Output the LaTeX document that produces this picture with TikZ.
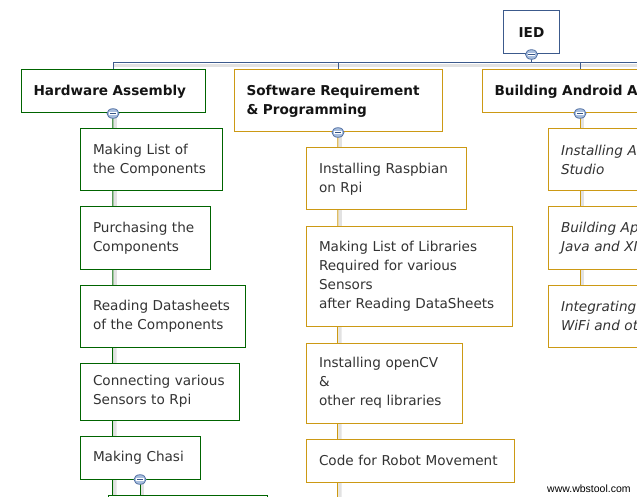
\documentclass[tikz,border=0pt]{standalone}
\usepackage{fontspec}
\setmainfont{DejaVu Sans}
\newfontfamily\wmfont{Liberation Sans}
\usetikzlibrary{backgrounds}

\definecolor{hwgreen}{RGB}{0,100,0}
\definecolor{swgold}{RGB}{204,153,20}
\definecolor{iedblue}{RGB}{60,90,140}
\definecolor{bodytext}{RGB}{51,51,51}
\definecolor{headtext}{RGB}{20,20,20}
\definecolor{iconfill}{RGB}{168,190,222}
\definecolor{iconedge}{RGB}{85,115,165}
\definecolor{iconbar}{RGB}{55,85,135}
\definecolor{lineshade}{RGB}{226,226,226}

\tikzset{
  box/.style={draw, fill=white, line width=1pt, anchor=north west,
              inner xsep=13pt, inner ysep=0pt, align=left},
  topic/.style={box, font=\fontsize{13.6}{19}\selectfont\bfseries,
                text=headtext, inner xsep=12.5pt},
  task/.style={box, font=\fontsize{13.6}{19}\selectfont, text=bodytext},
  itask/.style={task, font=\fontsize{13.6}{19}\selectfont\itshape},
  hwc/.style={draw=hwgreen},
  swc/.style={draw=swgold},
  iedc/.style={draw=iedblue},
  link/.style={line width=1pt},
  shade/.style={lineshade, line width=3pt},
  pics/collapse/.style={code={
    \draw[iconedge, fill=iconfill, line width=0.8pt]
      (0,0) ellipse [x radius=6pt, y radius=4.8pt];
    \draw[white, line width=3.2pt] (-3.9pt,0) -- (3.9pt,0);
    \draw[iconbar, line width=1.7pt] (-3.2pt,0) -- (3.2pt,0);
  }}
}

\begin{document}
\begin{tikzpicture}[x=1pt, y=-1pt]
\useasboundingbox (0,0) rectangle (637,497);
\clip (0,0) rectangle (637,497);

% half-pixel offset keeps the 1pt borders crisp
\begin{scope}[shift={(0.5,0.5)}]

% root
\node[topic, iedc, anchor=north, text width=31pt, align=center,
      minimum height=43pt] (ied) at (531,10) {IED};

% main branches
\node[topic, hwc, text width=159pt, minimum height=43pt] (hw) at (20,69)
  {Hardware Assembly};
\node[topic, swc, text width=183pt, minimum height=62pt] (sw) at (233,69)
  {Software Requirement\\\& Programming};
\node[topic, swc, text width=171pt, minimum height=43pt] (an) at (481,69)
  {Building Android App};

% hardware tasks
\node[task, hwc, text width=116pt, minimum height=62pt] (hw1) at (79,128)
  {Making List of\\the Components};
\node[task, hwc, text width=104pt, minimum height=62pt] (hw2) at (79,206)
  {Purchasing the\\Components};
\node[task, hwc, text width=139pt, minimum height=62pt] (hw3) at (79,284)
  {Reading Datasheets\\of the Components};
\node[task, hwc, text width=133pt, minimum height=57pt] (hw4) at (79,362)
  {Connecting various\\Sensors to Rpi};
\node[task, hwc, text width=94pt, minimum height=43pt] (hw5) at (79,435)
  {Making Chasi};
\node[task, hwc, text width=133pt, minimum height=43pt] (hw6) at (107,494) {};

% software tasks
\node[task, swc, text width=134pt, minimum height=62pt] (sw1) at (305,147)
  {Installing Raspbian\\on Rpi};
\node[task, swc, text width=180pt, minimum height=99pt] (sw2) at (305,226)
  {Making List of Libraries\\Required for various\\Sensors\\after Reading DataSheets};
\node[task, swc, text width=130pt, minimum height=80pt] (sw3) at (305,342)
  {Installing openCV\\\&\\other req libraries};
\node[task, swc, text width=182pt, minimum height=43pt] (sw4) at (305,438)
  {Code for Robot Movement};

% android tasks
\node[itask, swc, text width=150pt, minimum height=62pt] (an1) at (547,128)
  {Installing Android\\Studio};
\node[itask, swc, text width=150pt, minimum height=62pt] (an2) at (547,206)
  {Building App using\\Java and XML};
\node[itask, swc, text width=150pt, minimum height=62pt] (an3) at (547,284)
  {Integrating Sensors,\\WiFi and others};

% open ends of the branches
\coordinate (busend) at (645,62);
\coordinate (hwend) at (112,505);
\coordinate (swend) at (337,505);

\begin{pgfonlayer}{background}
  \fill[white] (-1,-1) rectangle (640,500);
  % top bus
  \draw[shade] ([yshift=-3pt]hw.north |- busend) -- ([yshift=-3pt]busend);
  \draw[link, iedblue] (ied.south) -- (ied.south |- busend);
  \draw[link, iedblue] (hw.north) -- (hw.north |- busend) -- (busend);
  \draw[link, iedblue] (sw.north) -- (sw.north |- busend);
  \draw[link, iedblue] (an.north) -- (an.north |- busend);
  % branch spines
  \draw[shade] ([xshift=2.5pt]hw.south) -- ([xshift=2.5pt]hwend);
  \draw[link, hwgreen] (hw.south) -- (hwend);
  \draw[shade] ([xshift=2.5pt]hw5.south) -- ([xshift=2.5pt]hw5.south |- hw6.north);
  \draw[link, hwgreen] (hw5.south) -- (hw5.south |- hw6.north);
  \draw[shade] ([xshift=2.5pt]sw.south) -- ([xshift=2.5pt]swend);
  \draw[link, swgold] (sw.south) -- (swend);
  \draw[shade] ([xshift=2.5pt]an.south) -- ([xshift=2.5pt]an.south |- an3.north);
  \draw[link, swgold] (an.south) -- (an.south |- an3.north);
\end{pgfonlayer}

% collapse buttons
\pic at (ied.south) {collapse};
\pic at (hw.south) {collapse};
\pic at (sw.south) {collapse};
\pic at (an.south) {collapse};
\pic at (hw5.south) {collapse};

\end{scope}

\node[anchor=west, inner sep=0pt, font=\wmfont\fontsize{10.5}{12}\selectfont]
  (mark) at (547,489) {www.wbstool.com};
\end{tikzpicture}
\end{document}
